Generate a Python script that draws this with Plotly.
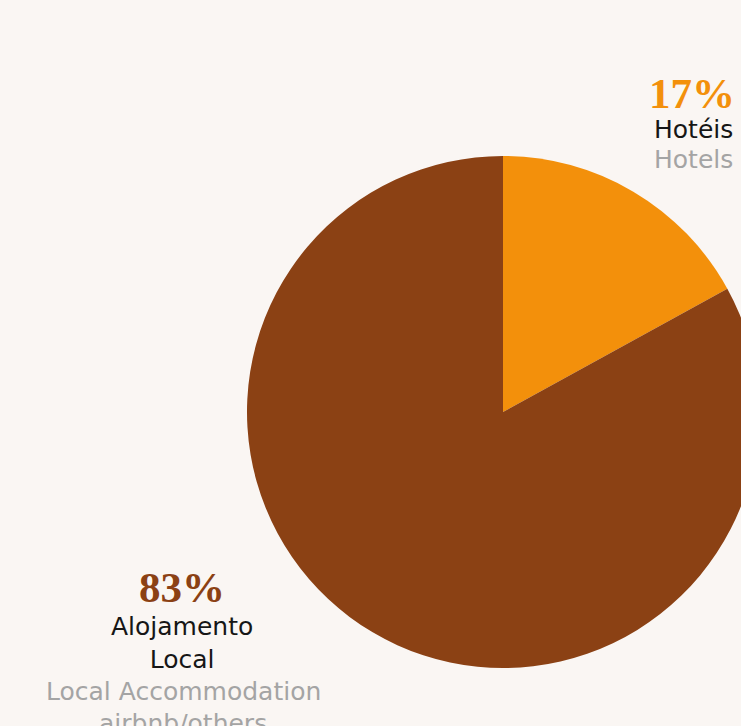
import plotly.graph_objects as go

# Share of tourist accommodation by type
categories = ["Hotéis", "Alojamento Local"]
categories_en = ["Hotels", "Local Accommodation", "airbnb/others"]
shares = [17, 83]
colors = ["#f3900b", "#8b4114"]

W, H = 760, 726
BG = "#faf6f3"

fig = go.Figure(
    go.Pie(
        labels=categories,
        values=shares,
        sort=False,
        direction="clockwise",
        rotation=0,
        marker=dict(colors=colors, line=dict(width=0)),
        textinfo="none",
        hoverinfo="label+percent",
        showlegend=False,
        domain=dict(x=[247 / W, 759 / W], y=[1 - 668 / H, 1 - 156 / H]),
    )
)


def px(x, y):
    return dict(x=x / W, y=1 - y / H, xref="paper", yref="paper",
                xanchor="center", yanchor="middle", showarrow=False)


pct_font = dict(family="Liberation Serif", size=43, weight=900)
name_font = dict(family="DejaVu Sans", size=25, color="#161616")
en_font = dict(family="DejaVu Sans", size=25, color="#a4a4a4")

ann = [
    # Hotels label (top right)
    dict(text=f"{shares[0]}%", font=dict(pct_font, color=colors[0]), **px(692, 94)),
    dict(text=categories[0], font=name_font, **px(693, 129.5)),
    dict(text=categories_en[0], font=en_font, **px(693, 159.5)),
    # Local accommodation label (bottom left)
    dict(text=f"{shares[1]}%", font=dict(pct_font, color=colors[1]), **px(182, 587)),
    dict(text="Alojamento<br>Local", font=name_font, **px(182, 642.5)),
    dict(text=categories_en[1], font=en_font, **px(183, 691.5)),
    dict(text=categories_en[2], font=en_font, **px(183, 723.5)),
]

fig.update_layout(
    width=W,
    height=H,
    autosize=False,
    margin=dict(l=0, r=0, t=0, b=0),
    paper_bgcolor=BG,
    plot_bgcolor=BG,
    annotations=ann,
)

fig.write_html(
    "out.html",
    post_script="document.body.style.margin='0';document.body.style.overflow='hidden';"
                "document.documentElement.style.overflow='hidden';",
)
